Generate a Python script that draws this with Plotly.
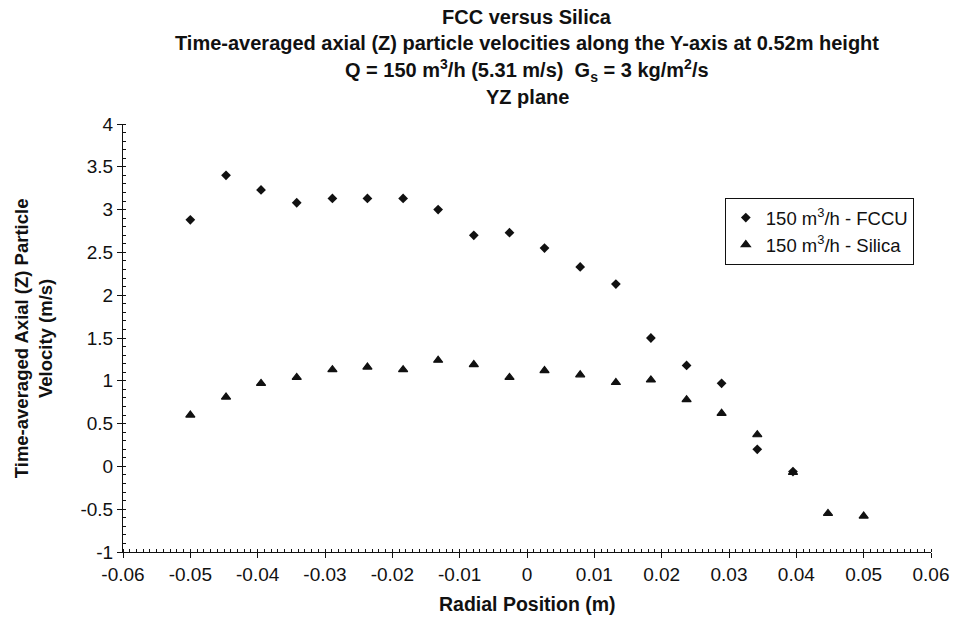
import plotly.graph_objects as go

# ---- data ----
radial_position = [-0.0500, -0.0447, -0.0395, -0.0342, -0.0289, -0.0237, -0.0184, -0.0132,
                   -0.0079, -0.0026, 0.0026, 0.0079, 0.0132, 0.0184, 0.0237, 0.0289,
                   0.0342, 0.0395, 0.0447, 0.0500]
fccu_velocity = [2.88, 3.40, 3.23, 3.08, 3.13, 3.13, 3.13, 3.00, 2.70, 2.73, 2.55, 2.33,
                 2.13, 1.50, 1.18, 0.97, 0.20, -0.06]
silica_velocity = [0.60, 0.81, 0.97, 1.04, 1.13, 1.16, 1.13, 1.24, 1.19, 1.04, 1.12, 1.07,
                   0.98, 1.01, 0.78, 0.62, 0.37, -0.07, -0.55, -0.58]

x_tick_vals = [-0.06, -0.05, -0.04, -0.03, -0.02, -0.01, 0, 0.01, 0.02, 0.03, 0.04, 0.05, 0.06]
x_tick_text = ["-0.06", "-0.05", "-0.04", "-0.03", "-0.02", "-0.01", "0", "0.01", "0.02",
               "0.03", "0.04", "0.05", "0.06"]
y_tick_vals = [-1, -0.5, 0, 0.5, 1, 1.5, 2, 2.5, 3, 3.5, 4]
y_tick_text = ["-1", "-0.5", "0", "0.5", "1", "1.5", "2", "2.5", "3", "3.5", "4"]

title_lines = [
    "FCC versus Silica",
    "Time-averaged axial (Z) particle velocities along the Y-axis at 0.52m height",
    "Q = 150 m<sup>3</sup>/h (5.31 m/s) \u00a0G<sub>s</sub> = 3 kg/m<sup>2</sup>/s",
    "YZ plane",
]
y_title = "Time-averaged Axial (Z) Particle<br>Velocity (m/s)"
x_title = "Radial Position (m)"
series_names = ["150 m<sup>3</sup>/h - FCCU", "150 m<sup>3</sup>/h - Silica"]

# ---- figure ----
W, H = 961, 619
ML, MR, MT, MB = 123, 19, 124, 67
PH = H - MT - MB
PW = W - ML - MR

FONT = "Liberation Sans, Arial, Helvetica, sans-serif"
INK = "#111111"

fig = go.Figure()
fig.add_trace(go.Scatter(
    x=radial_position[:len(fccu_velocity)], y=fccu_velocity, mode="markers",
    name=series_names[0],
    marker=dict(symbol="diamond", size=7.5, color=INK),
))
fig.add_trace(go.Scatter(
    x=radial_position[:len(silica_velocity)], y=silica_velocity, mode="markers",
    name=series_names[1],
    marker=dict(symbol="triangle-up", size=8, color=INK, line=dict(width=1.2, color=INK)),
))

def py_to_paper(py):
    return 1 + (MT - py) / PH

def px_to_paper(px):
    return (px - ML) / PW

annotations = []
for text, py in zip(title_lines, [16.5, 43.0, 70.0, 97.0]):
    annotations.append(dict(
        text="<b>" + text + "</b>", xref="paper", yref="paper",
        x=0.5, y=py_to_paper(py), xanchor="center", yanchor="middle",
        showarrow=False, font=dict(family=FONT, size=20, color=INK),
    ))
annotations.append(dict(
    text="<b>" + y_title + "</b>", xref="paper", yref="paper",
    x=px_to_paper(32), y=0.5, xanchor="center", yanchor="middle", textangle=-90,
    showarrow=False, font=dict(family=FONT, size=18.5, color=INK),
))
annotations.append(dict(
    text="<b>" + x_title + "</b>", xref="paper", yref="paper",
    x=0.5, y=py_to_paper(604), xanchor="center", yanchor="middle",
    showarrow=False, font=dict(family=FONT, size=19.5, color=INK),
))

fig.update_layout(
    width=W, height=H,
    margin=dict(l=ML, r=MR, t=MT, b=MB, pad=0),
    paper_bgcolor="white", plot_bgcolor="white",
    font=dict(family=FONT, size=18, color=INK),
    showlegend=True,
    legend=dict(
        x=px_to_paper(733), y=py_to_paper(198), xanchor="left", yanchor="top",
        bordercolor=INK, borderwidth=1, bgcolor="white",
        font=dict(family=FONT, size=18.5, color=INK),
        itemwidth=30, tracegroupgap=0,
    ),
    annotations=annotations,
    xaxis=dict(
        range=[-0.06, 0.06], tickmode="array", tickvals=x_tick_vals, ticktext=x_tick_text,
        showgrid=False, zeroline=False, showline=True, linecolor=INK, linewidth=1,
        ticks="outside", ticklen=5, tickcolor=INK, tickwidth=1,
        tickfont=dict(family=FONT, size=19, color=INK),
        minor=dict(dtick=0.001, tick0=0, ticks="inside", ticklen=3, tickcolor=INK, showgrid=False),
        fixedrange=True,
    ),
    yaxis=dict(
        range=[-1, 4], tickmode="array", tickvals=y_tick_vals, ticktext=y_tick_text,
        showgrid=False, zeroline=False, showline=True, linecolor=INK, linewidth=1,
        ticks="outside", ticklen=5, tickcolor=INK, tickwidth=1,
        tickfont=dict(family=FONT, size=19, color=INK),
        minor=dict(dtick=0.1, tick0=0, ticks="inside", ticklen=3, tickcolor=INK, showgrid=False),
        fixedrange=True,
    ),
)

fig.write_html("out.html", config=dict(displayModeBar=False))
